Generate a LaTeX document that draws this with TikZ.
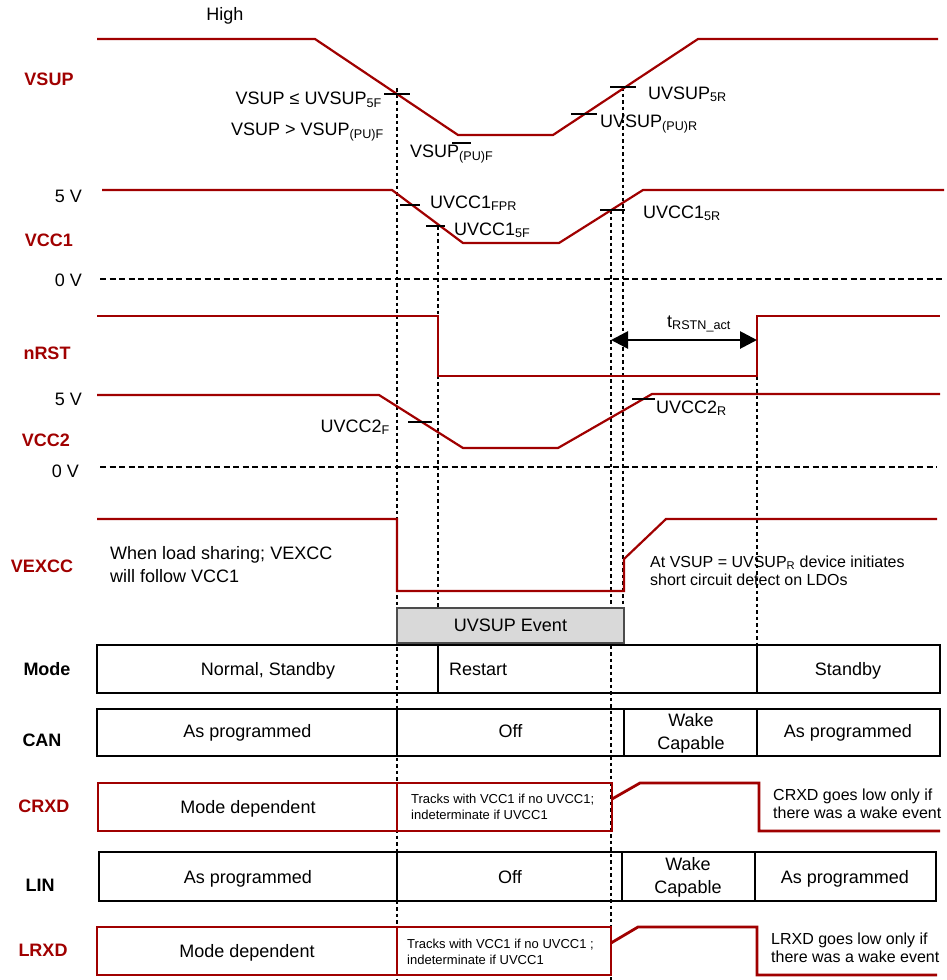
\documentclass[tikz,border=0pt]{standalone}
\usepackage{fontspec}
\setmainfont{Liberation Sans}
\usetikzlibrary{arrows.meta}
\definecolor{sigred}{HTML}{A00000}
\definecolor{evgray}{HTML}{D9D9D9}
\newcommand{\bigtxt}{\fontsize{18}{23}\selectfont}
\newcommand{\midtxt}{\fontsize{16}{18.5}\selectfont}
\newcommand{\tinytxt}{\fontsize{13}{16}\selectfont}
\tikzset{
  wave/.style={draw=sigred, line width=2.2pt},
  guide/.style={line width=1.8pt, dash pattern=on 3.5pt off 3pt},
  zeroline/.style={line width=1.8pt, dash pattern=on 6pt off 3.5pt},
  thresh/.style={line width=2.2pt},
  sig/.style={font=\bigtxt\bfseries, text=sigred, inner sep=0pt},
  rowname/.style={font=\bigtxt\bfseries, inner sep=0pt},
  note/.style={font=\bigtxt, inner sep=0pt},
  cell/.style={draw, line width=2.8pt},
  rcell/.style={draw=sigred, line width=2.8pt},
  dim/.style={{Triangle[length=17pt,width=17pt]}-{Triangle[length=17pt,width=17pt]}, line width=2.8pt},
}
\begin{document}
\begin{tikzpicture}[x=1pt, y=-1pt]
  \useasboundingbox (0,0) rectangle (947,980);

  % time guides
  \draw[guide] (397,88) -- (397,980);
  \draw[guide] (438,226) -- (438,608);
  \draw[guide] (611,210) -- (611,980);
  \draw[guide] (623,87) -- (623,608);
  \draw[guide] (757,376) -- (757,645);

  % 0 V levels
  \draw[zeroline] (100,279) -- (944,279);
  \draw[zeroline] (100,467) -- (937,467);

  % VSUP
  \draw[wave] (97,39) -- (315,39) -- (458,135) -- (553,135) -- (698,39) -- (938,39);
  \draw[thresh] (384,94) -- (410,94);
  \draw[thresh] (452,143) -- (471,143);
  \draw[thresh] (610,87) -- (636,87);
  \draw[thresh] (571,114) -- (597,114);
  \node[note, anchor=base] (high) at (225,20.5) {High};
  \node[sig] (vsup) at (49,79) {VSUP};
  \node[note, anchor=base east] (uvsf) at (382,104.5) {VSUP ≤ UVSUP\textsubscript{5F}};
  \node[note, anchor=base east] (pufa) at (384,135.5) {VSUP > VSUP\textsubscript{(PU)F}};
  \node[note, anchor=base west] (pufb) at (410,157) {VSUP\textsubscript{(PU)F}};
  \node[note, anchor=base west] (uvsr) at (648,99) {UVSUP\textsubscript{5R}};
  \node[note, anchor=base west] (pur) at (600,127) {UVSUP\textsubscript{(PU)R}};

  % VCC1
  \draw[wave] (102,190) -- (392,190) -- (463,243) -- (559,243) -- (643,190) -- (944,190);
  \draw[thresh] (400,205) -- (420,205);
  \draw[thresh] (426,226) -- (445,226);
  \draw[thresh] (600,210) -- (625,210);
  \node[note, anchor=base east] (fiveA) at (82,202) {5 V};
  \node[sig] (vcca) at (49,240) {VCC1};
  \node[note, anchor=base east] (zeroA) at (82,286) {0 V};
  \node[note, anchor=base west] (fpr) at (430,208) {UVCC1\textsubscript{FPR}};
  \node[note, anchor=base west] (cfif) at (454,235) {UVCC1\textsubscript{5F}};
  \node[note, anchor=base west] (cfir) at (643,218) {UVCC1\textsubscript{5R}};

  % nRST
  \draw[wave] (97,316) -- (438,316) -- (438,376) -- (757,376) -- (757,316) -- (940,316);
  \node[sig] (nrst) at (47,353.5) {nRST};
  \coordinate (rstA) at (611,340);
  \coordinate (rstB) at (757,340);
  \draw[dim] (rstA) -- (rstB);
  \node[note, anchor=base west] (trst) at (667,327) {t\textsubscript{RSTN\_act}};

  % VCC2
  \draw[wave] (97,395) -- (379,395) -- (463,448) -- (558,448) -- (652,394) -- (940,394);
  \draw[thresh] (408,422) -- (432,422);
  \draw[thresh] (632,399) -- (655,399);
  \node[note, anchor=base east] (fiveB) at (82,405) {5 V};
  \node[sig] (vccb) at (46,440.5) {VCC2};
  \node[note, anchor=base east] (zeroB) at (79,477) {0 V};
  \node[note, anchor=base east] (ctwf) at (390,432) {UVCC2\textsubscript{F}};
  \node[note, anchor=base west] (ctwr) at (656,413) {UVCC2\textsubscript{R}};

  % VEXCC
  \draw[wave] (97,519) -- (397,519) -- (397,591) -- (624,591) -- (624,559) -- (666,519) -- (937,519);
  \node[sig] (vexcc) at (42,566) {VEXCC};
  \node[note, anchor=north west, align=left] (share) at (110,546) {When load sharing; VEXCC\\will follow VCC1};
  \node[note, font=\midtxt, anchor=north west, align=left] (scd) at (650,555.5) {At VSUP = UVSUP\textsubscript{R} device initiates\\short circuit detect on LDOs};

  % UVSUP event
  \draw[draw=black!70, fill=evgray, line width=1.6pt] (397,608) rectangle (624,643);
  \node[note] (uvev) at (510.5,625.5) {UVSUP Event};

  % Mode
  \draw[cell] (97,645) rectangle (940,693);
  \draw[cell] (438,645) -- (438,693);
  \draw[cell] (757,645) -- (757,693);
  \node[rowname] (mode) at (47,669) {Mode};
  \node[note, anchor=base] (normal) at (268,675.5) {Normal, Standby};
  \node[note, anchor=base west] (restart) at (449,675.5) {Restart};
  \node[note, anchor=base] (stby) at (848,675.5) {Standby};

  % CAN
  \draw[cell] (97,709) rectangle (940,756);
  \draw[cell] (397,709) -- (397,756);
  \draw[cell] (624,709) -- (624,756);
  \draw[cell] (757,709) -- (757,756);
  \node[rowname] (can) at (42,740) {CAN};
  \node[note, anchor=base] (canA) at (247.5,737.5) {As programmed};
  \node[note, anchor=base] (canB) at (510.5,737.5) {Off};
  \node[note, align=center] (canC) at (691,733.5) {Wake\\Capable};
  \node[note, anchor=base] (canD) at (848,737.5) {As programmed};

  % CRXD
  \draw[rcell] (98,783) rectangle (612,831);
  \draw[rcell] (397,783) -- (397,831);
  \draw[wave, line width=2.8pt] (612,799) -- (640,783) -- (759,783) -- (759,831) -- (940,831);
  \node[sig] (crxd) at (44,806) {CRXD};
  \node[note, anchor=base] (crxA) at (248,813) {Mode dependent};
  \node[note, font=\tinytxt, anchor=north west, align=left] (crxB) at (411,793.6) {Tracks with VCC1 if no UVCC1;\\indeterminate if UVCC1};
  \node[note, font=\midtxt, anchor=north west, align=left] (crxC) at (773,788.5) {CRXD goes low only if\\there was a wake event};

  % LIN
  \draw[cell] (99,852) rectangle (936,901);
  \draw[cell] (397,852) -- (397,901);
  \draw[cell] (622,852) -- (622,901);
  \draw[cell] (755,852) -- (755,901);
  \node[rowname] (lin) at (40,885) {LIN};
  \node[note, anchor=base] (linA) at (248,883) {As programmed};
  \node[note, anchor=base] (linB) at (510,883) {Off};
  \node[note, align=center] (linC) at (688,877.5) {Wake\\Capable};
  \node[note, anchor=base] (linD) at (845,883) {As programmed};

  % LRXD
  \draw[rcell] (97,927) rectangle (611,975);
  \draw[rcell] (397,927) -- (397,975);
  \draw[wave, line width=2.8pt] (611,943) -- (638,927) -- (757,927) -- (757,975) -- (937,975);
  \node[sig] (lrxd) at (43,950) {LRXD};
  \node[note, anchor=base] (lrxA) at (247,957) {Mode dependent};
  \node[note, font=\tinytxt, anchor=north west, align=left] (lrxB) at (407,938.6) {Tracks with VCC1 if no UVCC1 ;\\indeterminate if UVCC1};
  \node[note, font=\midtxt, anchor=north west, align=left] (lrxC) at (771,932.5) {LRXD goes low only if\\there was a wake event};
\end{tikzpicture}
\end{document}
